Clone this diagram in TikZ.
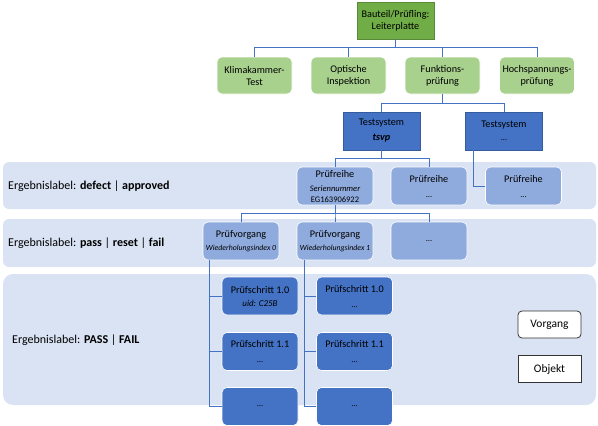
\documentclass[tikz,border=0pt]{standalone}
\usepackage{fontspec}
\setmainfont{Carlito}
\definecolor{dkgreen}{HTML}{70AD47}
\definecolor{ltgreen}{HTML}{A9D18E}
\definecolor{dkblue}{HTML}{4472C4}
\definecolor{mdblue}{HTML}{8FAADC}
\definecolor{bandc}{HTML}{DAE3F3}
\definecolor{linec}{HTML}{4472C4}
\tikzset{
  nd/.style={align=center, inner sep=0pt, font=\fontsize{10.2}{12}\selectfont, text=black},
  topbox/.style={nd, fill=dkgreen, draw=dkgreen!80!black, line width=0.4pt, minimum width=77pt, minimum height=37pt},
  catbox/.style={nd, fill=ltgreen, draw=white, line width=0.6pt, rounded corners=5pt, minimum width=75pt, minimum height=37pt},
  tsbox/.style={nd, fill=dkblue, draw=dkblue!80!black, line width=0.4pt, minimum width=77pt, minimum height=38pt},
  prbox/.style={nd, fill=mdblue, draw=white, line width=0.6pt, rounded corners=5pt, minimum width=76pt, minimum height=38pt},
  psbox/.style={nd, fill=dkblue, draw=white, line width=0.6pt, rounded corners=5pt, minimum width=76pt, minimum height=38pt},
  lbl/.style={anchor=west, inner sep=0pt, font=\fontsize{12}{14}\selectfont},
  conn/.style={draw=linec, line width=0.9pt},
  legbox/.style={nd, font=\fontsize{11.5}{13}\selectfont, fill=white, draw=black!80, line width=0.8pt, minimum width=63pt, minimum height=27pt}
}
\newcommand{\smit}[2][8.5]{{\fontsize{#1}{9}\selectfont\itshape #2}}
\newcommand{\smrm}[2][8.5]{{\fontsize{#1}{9}\selectfont #2}}
\begin{document}
\begin{tikzpicture}[x=1pt,y=-1pt]
\useasboundingbox (0,0) rectangle (598,426);
% bands
\fill[bandc, rounded corners=6pt] (3,162) rectangle (596,209);
\fill[bandc, rounded corners=6pt] (3,219) rectangle (596,267);
\fill[bandc, rounded corners=10pt] (3,274) rectangle (596,405);
\node[lbl] (l1) at (8,186) {Ergebnislabel: \textbf{defect} | \textbf{approved}};
\node[lbl] (l2) at (8,243) {Ergebnislabel: \textbf{pass} | \textbf{reset} | \textbf{fail}};
\node[lbl] (l3) at (12,340) {Ergebnislabel: \textbf{PASS} | \textbf{FAIL}};
% top
\node[topbox] (top) at (395.5,20.5) {Bauteil/Prüfling:\\Leiterplatte};
\node[catbox] (klima) at (254.5,75.5) {Klimakammer-\\Test};
\node[catbox] (opt) at (348.5,75.5) {Optische\\Inspektion};
\node[catbox] (funk) at (442.5,75.5) {Funktions-\\prüfung};
\node[catbox] (hoch) at (537,75.5) {Hochspannungs-\\prüfung};
\foreach \c in {klima,opt,funk,hoch}{\draw[conn] (top.south) -- ++(0,8) -| (\c.north);}
% testsystems
\node[tsbox] (ts1) at (381.5,131) {Testsystem\\[3pt]\textbf{\itshape tsvp}};
\node[tsbox] (ts2) at (504,131) {Testsystem\\[1pt]\smrm{...}};
\draw[conn] (funk.south) -- ++(0,9) -| (ts1.north);
\draw[conn] (funk.south) -- ++(0,9) -| (ts2.north);
% pruefreihen
\node[prbox] (pr1) at (335,186) {Prüfreihe\\[2pt]\smit{Seriennummer}\\[-1pt]\smrm{EG163906922}};
\node[prbox] (pr2) at (429,186) {Prüfreihe\\[3pt]\smrm{...}};
\node[prbox] (pr3) at (523.5,186) {Prüfreihe\\[3pt]\smrm{...}};
\draw[conn] (ts1.south) -- ++(0,8) -| (pr1.north);
\draw[conn] (ts1.south) -- ++(0,8) -| (pr2.north);
\draw[conn] ([xshift=-31pt]ts2.south) |- (pr3.west);
% pruefvorgaenge
\node[prbox] (pv0) at (241,241) {Prüfvorgang\\[1pt]\smit[7.8]{Wiederholungsindex 0}};
\node[prbox] (pv1) at (335,241) {Prüfvorgang\\[1pt]\smit[7.8]{Wiederholungsindex 1}};
\node[prbox] (pv2) at (429,241) {\smrm{...}};
\foreach \c in {pv0,pv1,pv2}{\draw[conn] (pr1.south) -- ++(0,8) -| (\c.north);}
% pruefschritte
\node[psbox] (s00) at (260,296) {Prüfschritt 1.0\\[1pt]\smit[9]{uid: C25B}};
\node[psbox] (s01) at (260,351.5) {Prüfschritt 1.1\\[3pt]\smrm{...}};
\node[psbox] (s02) at (260,406.5) {\smrm{...}};
\node[psbox] (s10) at (354.5,296) {Prüfschritt 1.0\\[3pt]\smrm{...}};
\node[psbox] (s11) at (354.5,351.5) {Prüfschritt 1.1\\[3pt]\smrm{...}};
\node[psbox] (s12) at (354.5,406.5) {\smrm{...}};
\foreach \c in {s00,s01,s02}{\draw[conn] ([xshift=-32pt]pv0.south) |- (\c.west);}
\foreach \c in {s10,s11,s12}{\draw[conn] ([xshift=-31pt]pv1.south) |- (\c.west);}
% legend
\node[legbox, rounded corners=4pt] (vorgang) at (549.5,324.5) {Vorgang};
\node[legbox] (objekt) at (549.5,369) {Objekt};
\end{tikzpicture}
\end{document}
